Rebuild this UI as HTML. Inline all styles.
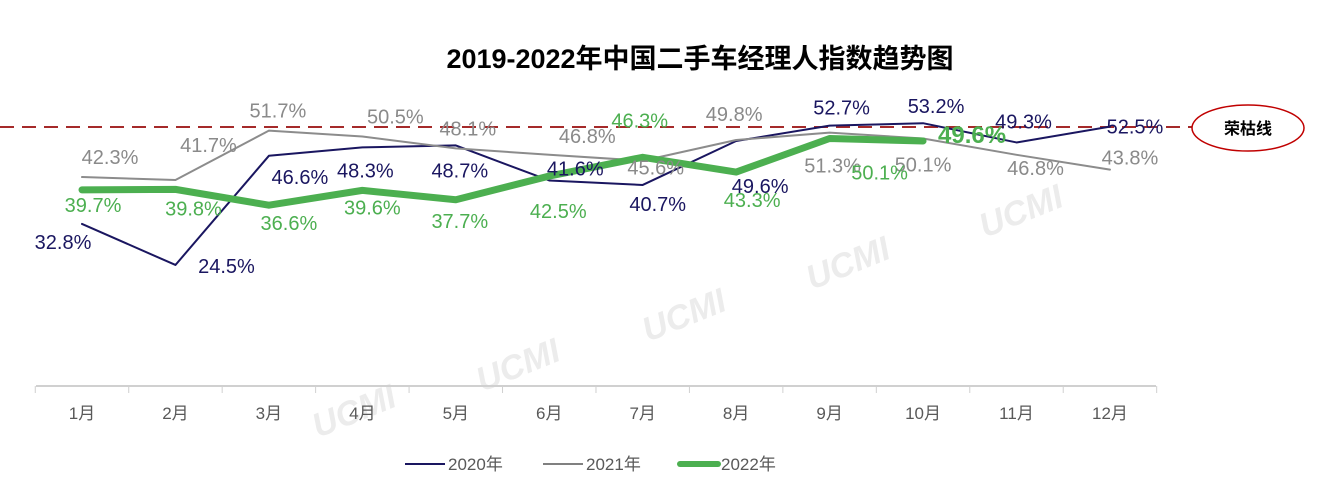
<!DOCTYPE html>
<html><head><meta charset="utf-8">
<style>
body{margin:0;background:#fff;}
svg{display:block;font-family:"Liberation Sans","Noto Sans CJK SC",sans-serif;}
</style></head>
<body>
<svg id="chart" width="1328" height="496" viewBox="0 0 1328 496">
<rect width="1328" height="496" fill="#fff"/>
<text x="700" y="68" text-anchor="middle" font-size="27" font-weight="bold" fill="#000">2019-2022年中国二手车经理人指数趋势图</text>
<g id="wm" fill="#ececec" font-size="34" font-weight="bold" font-style="italic">
<text transform="translate(318,438) rotate(-22)">UCMI</text>
<text transform="translate(482,392) rotate(-22)">UCMI</text>
<text transform="translate(648,342) rotate(-22)">UCMI</text>
<text transform="translate(812,290) rotate(-22)">UCMI</text>
<text transform="translate(985,238) rotate(-22)">UCMI</text>
</g>
<g id="axis"></g>
<line x1="0" y1="127" x2="1195" y2="127" stroke="#a52a2a" stroke-width="2" stroke-dasharray="14,8"/>
<ellipse cx="1248" cy="128" rx="56" ry="23" fill="#fff" stroke="#c00000" stroke-width="1.5"/>
<text x="1248" y="134" text-anchor="middle" font-size="16" font-weight="bold" fill="#000">荣枯线</text>
<g id="series"></g>
<g id="labels"></g>
<g font-size="17" fill="#595959">
<line x1="405" y1="464" x2="445" y2="464" stroke="#1a1660" stroke-width="2"/>
<text x="448" y="470">2020年</text>
<line x1="543" y1="464" x2="583" y2="464" stroke="#808080" stroke-width="2"/>
<text x="586" y="470">2021年</text>
<line x1="680" y1="464" x2="718" y2="464" stroke="#4caf50" stroke-width="6" stroke-linecap="round"/>
<text x="721" y="470">2022年</text>
</g>
</svg>
<script>
const categories=["1月","2月","3月","4月","5月","6月","7月","8月","9月","10月","11月","12月"];
const values2020=[32.8,24.5,46.6,48.3,48.7,41.6,40.7,49.6,52.7,53.2,49.3,52.5];
const values2021=[42.3,41.7,51.7,50.5,48.1,46.8,45.6,49.8,51.3,50.1,46.8,43.8];
const values2022=[39.7,39.8,36.6,39.6,37.7,42.5,46.3,43.3,50.1,49.6];
const NS="http://www.w3.org/2000/svg";
const x0=82,step=93.45,yBase=386,pxPer=4.94;
function xs(i){return x0+i*step;}
function ys(v){return yBase-v*pxPer;}
const axis=document.getElementById('axis');
function mk(tag,attrs,parent){const e=document.createElementNS(NS,tag);for(const k in attrs)e.setAttribute(k,attrs[k]);parent.appendChild(e);return e;}
let ax=mk('line',{x1:36,y1:yBase,x2:1156,y2:yBase,stroke:'#d0d0d0','stroke-width':2},axis);


for(let i=0;i<=categories.length;i++){
  const tx=xs(i)-step/2;
  const t=mk('line',{x1:tx,y1:yBase,x2:tx,y2:yBase+7,stroke:'#d0d0d0','stroke-width':1},axis);
  
  
}
categories.forEach((c,i)=>{
  const t=mk('text',{x:xs(i),y:419,'text-anchor':'middle','font-size':17,fill:'#595959'},axis);
  t.textContent=c;
  
  
});
const series=[
 {vals:values2020,color:'#1a1660',w:2,lc:'#1a1660',name:'2020',fs:20,
  off:[[-19,18],[51,1],[31,21],[3,23],[4,25],[26,-12],[15,19],[24,45],[12,-18],[13,-17],[7,-21],[25,0]]},
 {vals:values2021,color:'#8c8c8c',w:2,lc:'#8a8a8a',name:'2021',fs:20,
  off:[[28,-20],[33,-35],[9,-20],[33,-20],[12,-20],[38,-19],[13,7],[-2,-26],[3,33],[0,26],[19,13],[20,-12]]},
 {vals:values2022,color:'#4caf50',w:7,lc:'#4caf50',name:'2022',fs:20,
  off:[[11,15],[18,19],[20,18],[10,17],[4,21],[9,35],[-3,-37],[16,28],[50,34],[49,-5]]}
];
const sg=document.getElementById('series'),lg=document.getElementById('labels');
series.forEach(s=>{
  const pts=s.vals.map((v,i)=>xs(i)+','+ys(v)).join(' ');
  const p=mk('polyline',{points:pts,fill:'none',stroke:s.color,'stroke-width':s.w,'stroke-linejoin':'round','stroke-linecap':'round'},sg);
  
  
  s.vals.forEach((v,i)=>{
    const o=s.off[i];
    const last=(s.name==='2022'&&i===s.vals.length-1);
    const t=mk('text',{x:xs(i)+o[0],y:ys(v)+o[1]+7,'text-anchor':'middle','font-size':last?24:s.fs,'font-weight':last?'bold':'normal',fill:s.lc},lg);
    t.textContent=v.toFixed(1)+'%';
    
    
  });
});
</script>
</body></html>
